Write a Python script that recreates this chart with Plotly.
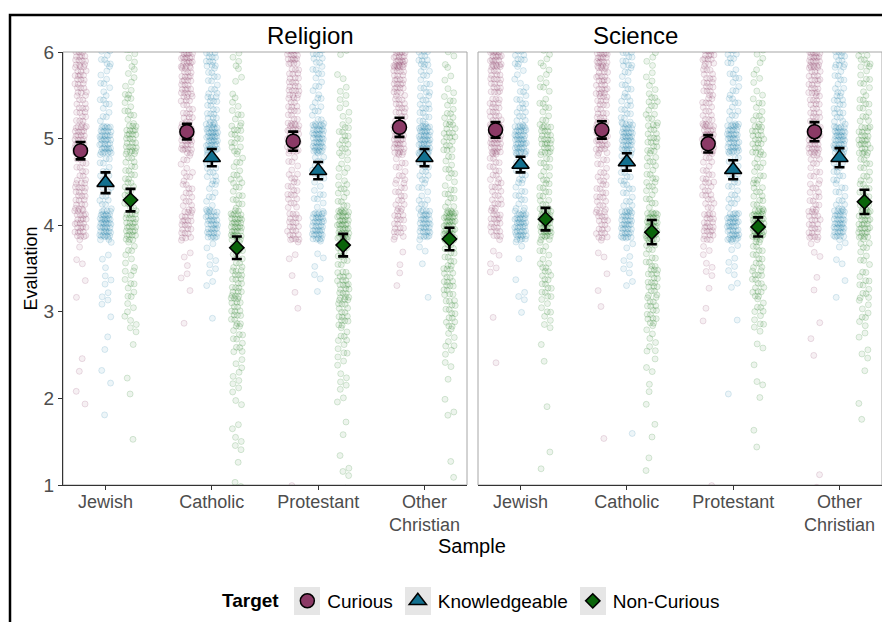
import numpy as np
import plotly.graph_objects as go

# ---------------- data ----------------
samples = ["Jewish", "Catholic", "Protestant", "Other<br>Christian"]
targets = ["Curious", "Knowledgeable", "Non-Curious"]
facets = ["Religion", "Science"]

# response levels (mean of three 1-6 items)
levels = [1.0, 1.33, 1.67, 2.0, 2.33, 2.67, 3.0, 3.33, 3.67, 4.0, 4.33, 4.67, 5.0, 5.33, 5.67, 6.0]

# counts of respondents at each level, per facet / target / sample
rel_curious = [
    [0, 0, 0, 2, 2, 0, 0, 2, 3, 28, 22, 14, 30, 18, 22, 25],
    [0, 0, 0, 0, 0, 0, 1, 3, 4, 22, 14, 10, 34, 18, 25, 38],
    [2, 0, 0, 0, 0, 0, 1, 2, 3, 22, 15, 10, 30, 18, 22, 30],
    [0, 0, 0, 0, 0, 0, 0, 2, 3, 18, 14, 12, 30, 20, 26, 38],
]
rel_knowledgeable = [
    [0, 0, 1, 0, 2, 2, 3, 5, 4, 45, 12, 12, 40, 10, 8, 12],
    [0, 0, 0, 0, 0, 0, 1, 4, 5, 35, 10, 14, 45, 18, 12, 20],
    [0, 0, 0, 0, 0, 0, 0, 3, 4, 40, 10, 12, 42, 12, 10, 16],
    [0, 0, 0, 0, 0, 0, 0, 1, 3, 35, 10, 14, 45, 15, 12, 20],
]
rel_noncurious = [
    [0, 0, 1, 1, 1, 3, 6, 10, 8, 28, 14, 14, 25, 10, 8, 8],
    [4, 3, 4, 5, 6, 12, 18, 20, 12, 35, 12, 10, 15, 8, 4, 6],
    [3, 2, 2, 4, 6, 10, 18, 22, 14, 38, 12, 8, 14, 8, 4, 4],
    [2, 1, 1, 2, 3, 8, 15, 18, 14, 40, 12, 10, 18, 10, 5, 5],
]
sci_curious = [
    [0, 0, 0, 0, 1, 0, 1, 1, 4, 22, 16, 14, 32, 20, 24, 34],
    [0, 0, 1, 0, 0, 0, 1, 2, 3, 20, 15, 12, 32, 20, 25, 36],
    [2, 0, 0, 0, 0, 0, 2, 3, 5, 24, 16, 12, 32, 16, 20, 26],
    [2, 0, 0, 0, 1, 1, 1, 2, 4, 22, 14, 12, 32, 18, 24, 34],
]
sci_knowledgeable = [
    [0, 0, 0, 0, 0, 0, 2, 3, 3, 42, 12, 14, 42, 14, 8, 16],
    [0, 0, 1, 0, 0, 0, 0, 4, 5, 38, 12, 14, 40, 14, 10, 18],
    [0, 0, 0, 1, 0, 0, 1, 4, 6, 40, 12, 12, 40, 12, 10, 14],
    [0, 0, 0, 0, 0, 0, 0, 2, 4, 38, 12, 14, 42, 16, 12, 20],
]
sci_noncurious = [
    [0, 2, 0, 1, 1, 2, 8, 14, 10, 40, 14, 12, 25, 10, 8, 8],
    [0, 2, 2, 2, 4, 8, 16, 18, 12, 40, 12, 12, 18, 12, 6, 8],
    [0, 1, 1, 2, 2, 4, 10, 16, 14, 45, 14, 12, 20, 10, 6, 6],
    [1, 0, 1, 1, 2, 4, 8, 12, 10, 30, 14, 12, 25, 12, 10, 12],
]

# group means and 95% CI half-widths
rel_means = {
    "Curious": [4.86, 5.08, 4.97, 5.13],
    "Knowledgeable": [4.49, 4.78, 4.63, 4.78],
    "Non-Curious": [4.29, 3.74, 3.77, 3.84],
}
rel_ci = {
    "Curious": [0.10, 0.09, 0.11, 0.11],
    "Knowledgeable": [0.12, 0.10, 0.10, 0.10],
    "Non-Curious": [0.13, 0.13, 0.13, 0.13],
}
sci_means = {
    "Curious": [5.10, 5.10, 4.94, 5.08],
    "Knowledgeable": [4.70, 4.73, 4.64, 4.78],
    "Non-Curious": [4.07, 3.92, 3.98, 4.27],
}
sci_ci = {
    "Curious": [0.09, 0.10, 0.10, 0.11],
    "Knowledgeable": [0.09, 0.10, 0.11, 0.11],
    "Non-Curious": [0.13, 0.14, 0.11, 0.14],
}

raw = {
    "Religion": {"Curious": rel_curious, "Knowledgeable": rel_knowledgeable, "Non-Curious": rel_noncurious},
    "Science": {"Curious": sci_curious, "Knowledgeable": sci_knowledgeable, "Non-Curious": sci_noncurious},
}
means = {"Religion": rel_means, "Science": sci_means}
cis = {"Religion": rel_ci, "Science": sci_ci}

# ---------------- style ----------------
mean_color = {"Curious": "#8B3A66", "Knowledgeable": "#12708F", "Non-Curious": "#0A640A"}
pt_rgb = {"Curious": (139, 58, 102), "Knowledgeable": (30, 125, 165), "Non-Curious": (20, 120, 20)}
symbols = {"Curious": "circle", "Knowledgeable": "triangle-up", "Non-Curious": "diamond"}
msize = {"Curious": 14, "Knowledgeable": 15, "Non-Curious": 11}
dodge = {"Curious": -0.235, "Knowledgeable": 0.0, "Non-Curious": 0.235}
FONT = "Liberation Sans, Arial, sans-serif"

fig = go.Figure()

# deterministic (quasi-random, low-discrepancy) jitter, like geom_jitter
def jitter(n, seed_a, seed_b):
    k = np.arange(n)
    jx = ((k * 0.7548776662 + seed_a) % 1.0 - 0.5) * 2
    jy = ((k * 0.5698402910 + seed_b) % 1.0 - 0.5) * 2
    return jx, jy

xs_axis = {"Religion": ("x", "y"), "Science": ("x2", "y2")}
for fi, facet in enumerate(facets):
    xa, ya = xs_axis[facet]
    for ti, t in enumerate(targets):
        px, py = [], []
        for si in range(len(samples)):
            counts = raw[facet][t][si]
            vals = np.repeat(levels, counts)
            jx, jy = jitter(len(vals), 0.13 * (si + 1) + 0.29 * ti + 0.41 * fi, 0.37 * (si + 2) + 0.17 * ti)
            px.extend(list(si + 1 + dodge[t] + 0.055 * jx))
            py.extend(list(vals + 0.17 * jy))
        r, g, b = pt_rgb[t]
        fig.add_trace(go.Scatter(
            x=px, y=py, mode="markers", xaxis=xa, yaxis=ya, showlegend=False, hoverinfo="skip",
            marker=dict(size=6, symbol="circle", color=f"rgba({r},{g},{b},0.08)",
                        line=dict(color=f"rgba({r},{g},{b},0.16)", width=1)),
        ))

for fi, facet in enumerate(facets):
    xa, ya = xs_axis[facet]
    for t in targets:
        fig.add_trace(go.Scatter(
            x=[i + 1 + dodge[t] for i in range(len(samples))], y=means[facet][t],
            mode="markers", xaxis=xa, yaxis=ya, name=t, legendgroup=t, showlegend=(fi == 0),
            error_y=dict(type="data", array=cis[facet][t], color="black", thickness=2.6, width=5),
            marker=dict(size=msize[t], symbol=symbols[t], color=mean_color[t],
                        line=dict(color="black", width=1.5)),
        ))

# ---------------- layout ----------------
W, H = 882, 622
ml, mr, mt, mb = 63, 0, 52, 137
pw = W - ml - mr
ph = H - mt - mb
d1 = [0, 404 / pw]
d2 = [415 / pw, 1]

def xp(px_):
    return (px_ - ml) / pw

def yp(py_):
    return (H - mb - py_) / ph

axis_common = dict(range=[0.6, 4.4], tickvals=[1, 2, 3, 4], ticktext=samples, showgrid=False,
                   zeroline=False, showline=True, linecolor="#333333", linewidth=1.3,
                   ticks="outside", ticklen=4, tickcolor="#333333", ticklabelstandoff=-4,
                   tickfont=dict(family=FONT, size=18, color="#4D4D4D"))
fig.update_layout(
    width=W, height=H, margin=dict(l=ml, r=mr, t=mt, b=mb),
    paper_bgcolor="white", plot_bgcolor="white",
    xaxis=dict(domain=d1, anchor="y", **axis_common),
    xaxis2=dict(domain=d2, anchor="y2", **axis_common),
    yaxis=dict(range=[1, 6], tickvals=[1, 2, 3, 4, 5, 6], showgrid=False, zeroline=False,
               showline=True, linecolor="#333333", linewidth=1.3, ticks="outside", ticklen=4,
               tickcolor="#333333", tickfont=dict(family=FONT, size=19, color="#4D4D4D"),
               title=dict(text="Evaluation", font=dict(family=FONT, size=18, color="black"), standoff=1)),
    yaxis2=dict(range=[1, 6], anchor="x2", matches="y", showgrid=False, zeroline=False,
                showline=False, showticklabels=False, ticks=""),
    showlegend=True,
    legend=dict(orientation="h", x=xp(472.5), xanchor="center", y=yp(601), yanchor="middle",
                bgcolor="rgba(0,0,0,0)", font=dict(family=FONT, size=19, color="black"),
                title=dict(text="<b>Target</b>", side="left", font=dict(family=FONT, size=19, color="black")),
                itemsizing="trace", tracegroupgap=0),
    font=dict(family=FONT),
)

annotations = [
    dict(text="Religion", x=(d1[0] + d1[1]) / 2, y=yp(35), xref="paper", yref="paper",
         showarrow=False, font=dict(family=FONT, size=24, color="black"), yanchor="middle"),
    dict(text="Science", x=(d2[0] + d2[1]) / 2, y=yp(35), xref="paper", yref="paper",
         showarrow=False, font=dict(family=FONT, size=24, color="black"), yanchor="middle"),
    dict(text="Sample", x=xp(472), y=yp(546), xref="paper", yref="paper",
         showarrow=False, font=dict(family=FONT, size=20, color="black"), yanchor="middle"),
]
fig.update_layout(annotations=annotations)

shapes = [
    dict(type="rect", xref="x domain", yref="y domain", x0=0, x1=1, y0=0, y1=1,
         line=dict(color="#A6A6A6", width=1), layer="below"),
    dict(type="rect", xref="x2 domain", yref="y2 domain", x0=0, x1=1, y0=0, y1=1,
         line=dict(color="#A6A6A6", width=1), layer="below"),
    # outer black frame
    dict(type="rect", xref="paper", yref="paper", x0=xp(10), x1=xp(900), y0=yp(640), y1=yp(15),
         line=dict(color="black", width=2.5), layer="below"),
]
# grey legend key backgrounds (placed behind plotly's legend symbols)
for cx in [307, 418, 593]:
    shapes.append(dict(type="rect", xref="paper", yref="paper", x0=xp(cx - 13), x1=xp(cx + 13),
                       y0=yp(615), y1=yp(587), fillcolor="#E6E6E6", line=dict(width=0), layer="below"))
fig.update_layout(shapes=shapes)

fig.write_html("out.html", config={"displayModeBar": False},
               post_script="document.body.style.margin='0px';document.body.style.overflow='hidden';")
